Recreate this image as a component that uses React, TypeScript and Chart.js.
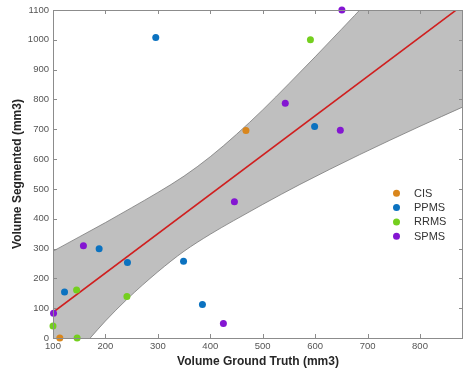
import React, { useEffect, useRef } from 'react';
import { Chart, registerables } from 'chart.js';

Chart.register(...registerables);

// ---- data ----
const seriesNames = ['CIS', 'PPMS', 'RRMS', 'SPMS'];
const seriesColors = ['#d9861c', '#0b72c0', '#74cf1e', '#8416d2'];

const cisX = [113, 468];
const cisY = [0, 696];
const ppmsX = [296, 599, 188, 242, 349, 122, 385];
const ppmsY = [1008, 709, 299, 253, 257, 154, 112];
const rrmsX = [591, 145, 241, 100, 146];
const rrmsY = [1000, 161, 139, 40, 0];
const spmsX = [651, 543, 648, 446, 158, 425, 101];
const spmsY = [1100, 787, 697, 457, 309, 49, 83];

const fitX = [100, 882];
const fitY = [86, 1117];

const bandUpperX = [100, 150, 200, 250, 300, 350, 400, 450, 500, 550, 600, 650, 700, 800, 882];
const bandUpperY = [291, 339, 387, 437, 488, 543, 608, 683, 765, 853, 943, 1035, 1128, 1320, 1478];
const bandLowerX = [100, 171, 200, 240, 300, 350, 400, 444, 500, 571, 685, 800, 882];
const bandLowerY = [-140, 0, 57, 128, 222, 291, 348, 393, 448, 515, 615, 710, 775];

const xTicks = [100, 200, 300, 400, 500, 600, 700, 800];
const yTicks = [0, 100, 200, 300, 400, 500, 600, 700, 800, 900, 1000, 1100];
const xRange = [100, 882];
const yRange = [0, 1100];

const xTitle = 'Volume Ground Truth (mm3)';
const yTitle = 'Volume Segmented (mm3)';

const pts = (xs: number[], ys: number[]) => xs.map((x, i) => ({ x, y: ys[i] }));

const FONT = '"Liberation Sans", Arial, Helvetica, sans-serif';

const boxPlugin = {
  id: 'boxAndLegend',
  afterDraw(chart: any) {
    const { ctx, chartArea: a, scales } = chart;
    ctx.save();
    ctx.strokeStyle = '#8c8c8c';
    ctx.lineWidth = 1;
    ctx.beginPath();
    ctx.rect(Math.round(a.left) + 0.5, Math.round(a.top) + 0.5, Math.round(a.right - a.left) - 1, Math.round(a.bottom - a.top));
    ctx.stroke();
    const tl = 4;
    ctx.beginPath();
    for (const v of xTicks) {
      const px = Math.round(scales.x.getPixelForValue(v)) + 0.5;
      ctx.moveTo(px, a.bottom);
      ctx.lineTo(px, a.bottom - tl);
      ctx.moveTo(px, a.top);
      ctx.lineTo(px, a.top + tl);
    }
    for (const v of yTicks) {
      const py = Math.round(scales.y.getPixelForValue(v)) + 0.5;
      ctx.moveTo(a.left, py);
      ctx.lineTo(a.left + tl, py);
      ctx.moveTo(a.right, py);
      ctx.lineTo(a.right - tl, py);
    }
    ctx.stroke();

    // legend
    const mx = a.right - 66.5;
    const tx = a.right - 49;
    const y0 = a.top + 183.3;
    const dy = 14.3;
    ctx.font = `11px ${FONT}`;
    ctx.textBaseline = 'middle';
    ctx.textAlign = 'left';
    seriesNames.forEach((name, i) => {
      const yy = y0 + i * dy;
      ctx.fillStyle = seriesColors[i];
      ctx.beginPath();
      ctx.arc(mx, yy, 3.5, 0, Math.PI * 2);
      ctx.fill();
      ctx.fillStyle = '#333333';
      ctx.fillText(name, tx, yy + 0.5);
    });
    ctx.restore();
  },
};

export default function App() {
  const ref = useRef<HTMLCanvasElement>(null);
  useEffect(() => {
    document.body.style.margin = '0';
    const seriesData = [pts(cisX, cisY), pts(ppmsX, ppmsY), pts(rrmsX, rrmsY), pts(spmsX, spmsY)];
    const scatterSets = seriesNames.map((name, i) => ({
      type: 'scatter' as const,
      label: name,
      data: seriesData[i],
      backgroundColor: seriesColors[i],
      borderWidth: 0,
      pointRadius: 3.5,
      clip: false as any,
    }));
    const tickFmt = (v: any) => String(v);
    const chart = new Chart(ref.current!, {
      type: 'scatter',
      data: {
        datasets: [
          ...scatterSets,
          {
            type: 'line',
            label: 'fit',
            data: pts(fitX, fitY),
            borderColor: '#d01f1f',
            borderWidth: 1.6,
            pointRadius: 0,
            fill: false,
          },
          {
            type: 'line',
            label: 'upper',
            data: pts(bandUpperX, bandUpperY),
            borderColor: '#7a7a7a',
            borderWidth: 0.8,
            pointRadius: 0,
            cubicInterpolationMode: 'monotone',
            fill: false,
          },
          {
            type: 'line',
            label: 'lower',
            data: pts(bandLowerX, bandLowerY),
            borderColor: '#7a7a7a',
            borderWidth: 0.8,
            pointRadius: 0,
            cubicInterpolationMode: 'monotone',
            fill: '-1',
            backgroundColor: '#bfbfbf',
          },
        ] as any,
      },
      options: {
        responsive: false,
        animation: false,
        devicePixelRatio: 1,
        layout: { autoPadding: false, padding: { top: 10, right: 1, left: 0, bottom: 0 } },
        plugins: { legend: { display: false }, tooltip: { enabled: false } },
        scales: {
          x: {
            type: 'linear',
            min: xRange[0],
            max: xRange[1],
            afterBuildTicks: (s: any) => {
              s.ticks = xTicks.map((v) => ({ value: v }));
            },
            afterFit: (s: any) => {
              s.height = 40;
              s.paddingLeft = 0;
              s.paddingRight = 0;
            },
            grid: { display: false, drawTicks: false },
            border: { display: false },
            ticks: {
              autoSkip: false,
              maxRotation: 0,
              padding: 3,
              color: '#555555',
              font: { family: FONT, size: 9.5 },
              callback: tickFmt,
            },
            title: {
              display: true,
              text: xTitle,
              color: '#262626',
              font: { family: FONT, size: 12, weight: 'bold' },
              padding: { top: 0, bottom: 9 },
            },
          },
          y: {
            type: 'linear',
            min: yRange[0],
            max: yRange[1],
            afterBuildTicks: (s: any) => {
              s.ticks = yTicks.map((v) => ({ value: v }));
            },
            afterFit: (s: any) => {
              s.width = 53;
            },
            grid: { display: false, drawTicks: false },
            border: { display: false },
            ticks: {
              autoSkip: false,
              padding: 4,
              color: '#555555',
              font: { family: FONT, size: 9.5 },
              callback: tickFmt,
            },
            title: {
              display: true,
              text: yTitle,
              color: '#262626',
              font: { family: FONT, size: 12, weight: 'bold' },
              padding: { top: 10, bottom: 0 },
            },
          },
        },
      } as any,
      plugins: [boxPlugin],
    });
    return () => chart.destroy();
  }, []);
  return (
    <div style={{ width: 464, height: 378 }}>
      <canvas ref={ref} width={464} height={378} />
    </div>
  );
}
